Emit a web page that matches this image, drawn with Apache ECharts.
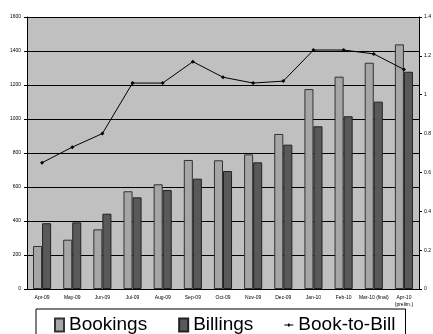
<!DOCTYPE html>
<html>
<head>
  <meta charset="utf-8">
</head>
<body style="height: 100%; margin: 0;">
  <div id="container" style="width: 433px; height: 334px;"></div>
  <script type="text/javascript" src="https://cdn.jsdelivr.net/npm/echarts@6/dist/echarts.min.js"></script>
  <script type="text/javascript">
    var months = ['Apr-09', 'May-09', 'Jun-09', 'Jul-09', 'Aug-09', 'Sep-09', 'Oct-09',
      'Nov-09', 'Dec-09', 'Jan-10', 'Feb-10', 'Mar-10 (final)', 'Apr-10\n(prelim.)'];
    var bookings = [253, 290, 351, 575, 616, 759, 757, 792, 912, 1176, 1249, 1331, 1439];
    var billings = [387, 392, 443, 539, 582, 649, 694, 745, 849, 957, 1016, 1102, 1278];
    var bookToBill = [0.65, 0.73, 0.80, 1.06, 1.06, 1.17, 1.09, 1.06, 1.07, 1.23, 1.23, 1.21, 1.13];

    var myChart = echarts.init(document.getElementById('container'), null, { renderer: 'canvas' });
    var font = 'Liberation Sans, Arial, sans-serif';
    var plain = function (v) { return String(v); };

    var option = {
      animation: false,
      textStyle: { fontFamily: font },
      grid: {
        left: 27, right: 14, top: 17, bottom: 45,
        outerBoundsMode: 'none',
        containLabel: false,
        show: true,
        backgroundColor: '#c0c0c0',
        borderWidth: 0
      },
      legend: {
        left: 36, top: 309,
        itemGap: 31,
        itemWidth: 9, itemHeight: 13,
        padding: [6, 10, 6, 18],
        borderColor: '#000', borderWidth: 1,
        textStyle: { fontSize: 19, lineHeight: 20, color: '#000', fontFamily: font },
        data: [
          { name: 'Bookings', icon: 'rect' },
          { name: 'Billings', icon: 'rect' },
          {
            name: 'Book-to-Bill',
            icon: 'path://M0,6 L9,6 L9,7 L0,7 Z M4.5,4.6 L6,6.5 L4.5,8.4 L3,6.5 Z M0,0 L0.01,0 L0.01,0.01 Z M9,13 L9.01,13 L9.01,13.01 Z',
            itemStyle: { color: '#000', borderWidth: 0 }
          }
        ]
      },
      xAxis: {
        type: 'category',
        data: months,
        axisLine: { lineStyle: { color: '#000' } },
        axisTick: { length: 3, lineStyle: { color: '#000' } },
        axisLabel: { fontSize: 5, color: '#000', interval: 0, margin: 5, lineHeight: 7 }
      },
      yAxis: [
        {
          type: 'value',
          min: 0, max: 1600, interval: 200,
          name: 'Dollars (Millions)',
          nameLocation: 'middle',
          nameGap: 18,
          nameTextStyle: { fontSize: 5, fontWeight: 'bold', color: '#000' },
          axisLine: { show: true, lineStyle: { color: '#000' } },
          axisTick: { show: true, length: 3, lineStyle: { color: '#000' } },
          axisLabel: { fontSize: 5, color: '#000', margin: 6, formatter: plain },
          splitLine: { lineStyle: { color: '#000', width: 1 } }
        },
        {
          type: 'value',
          min: 0, max: 1.4, interval: 0.2,
          position: 'right',
          axisLine: { show: true, lineStyle: { color: '#000' } },
          axisTick: { show: true, length: 3, lineStyle: { color: '#000' } },
          axisLabel: { fontSize: 5, color: '#000', margin: 5, formatter: plain },
          splitLine: { show: false }
        }
      ],
      series: [
        {
          name: 'Bookings',
          type: 'bar',
          data: bookings,
          barGap: '0%',
          barCategoryGap: '40%',
          itemStyle: { color: '#a6a6a6', borderColor: '#333', borderWidth: 1 }
        },
        {
          name: 'Billings',
          type: 'bar',
          data: billings,
          itemStyle: { color: '#595959', borderColor: '#222', borderWidth: 1 }
        },
        {
          name: 'Book-to-Bill',
          type: 'line',
          yAxisIndex: 1,
          data: bookToBill,
          symbol: 'diamond',
          symbolSize: 4,
          lineStyle: { color: '#000', width: 1 },
          itemStyle: { color: '#000' }
        }
      ]
    };
    myChart.setOption(option);
    window.addEventListener('resize', myChart.resize);
  </script>
</body>
</html>
